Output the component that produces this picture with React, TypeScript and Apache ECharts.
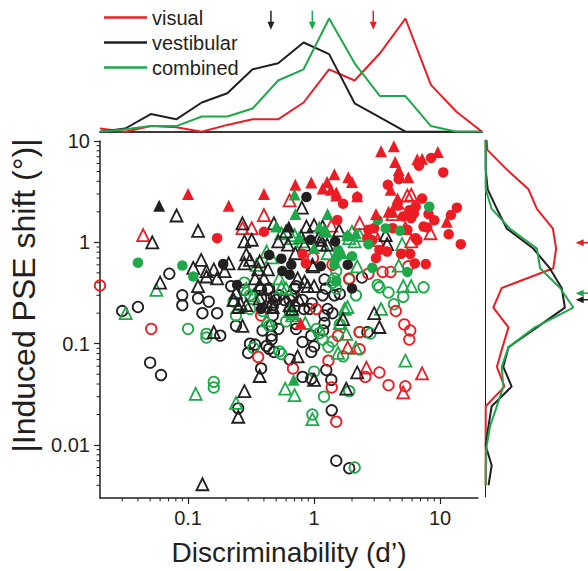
import React, { useEffect, useRef } from 'react';
import * as echarts from 'echarts';

const RED = '#ec1c24';
const BLACK = '#231f20';
const GREEN = '#1fa84a';
const FONT = '"Liberation Sans", Arial, Helvetica, sans-serif';

const X_MIN = 0.02;
const X_MAX = 20;
const Y_MIN = 0.003;
const Y_MAX = 10;

// ---------- scatter data: [d', |PSE shift|] ----------
const visualFilledTri = [[0.10,3.0],[0.21,2.3],[0.40,3.0],[0.71,3.7],[0.95,3.9],[1.27,3.95],[1.45,4.7],[1.17,3.4],[1.36,3.3],[1.5,3.1],[1.5,2.9],[3.4,7.9],[4.3,8.9],[9.6,7.8],[6.6,6.6],[7.2,6.7],[4.4,6.2],[4.7,5.15],[5.6,4.4],[1.87,4.4],[2.0,3.95],[4.05,3.3],[4.6,2.7],[4.7,2.4],[4.4,2.35],[4.2,2.0],[11.3,1.6],[3.1,1.9],[2.2,2.85],[3.9,2.0],[0.78,0.16]];
const visualOpenTri = [[0.044,1.18],[0.40,1.86],[0.64,2.6],[0.32,1.38],[0.27,1.38],[5.5,2.9],[5.9,2.95],[4.2,1.9],[8.4,1.23],[2.3,1.55],[5.3,1.38],[5.9,1.02],[1.85,0.092],[2.6,0.058],[7.2,0.051],[5.1,0.033],[1.37,1.46],[3.0,1.23],[3.2,1.05]];
const visualFilledCirc = [[0.17,1.1],[0.40,1.27],[1.53,1.66],[8.5,6.8],[6.8,5.7],[10.6,4.9],[4.7,4.2],[3.85,3.7],[2.2,2.8],[1.7,2.4],[7.2,2.7],[6.4,2.25],[5.1,1.8],[5.9,1.73],[8.1,1.9],[9.0,1.65],[13.6,2.2],[12.2,1.86],[7.9,1.4],[11.7,1.2],[14.6,0.96],[7.7,0.61],[6.3,0.62],[3.1,0.7],[3.3,0.84],[3.8,0.81],[4.2,1.38],[5.5,1.33],[6.4,1.1],[5.7,2.07],[6.2,1.93],[2.7,1.33],[3.0,1.38],[2.65,1.1],[2.9,1.05],[6.6,1.05],[7.4,1.43],[4.9,0.77],[5.8,0.77],[0.81,0.77],[0.86,0.62],[1.6,0.77]];
const visualOpenCirc = [[0.02,0.375],[0.051,0.14],[0.36,0.074],[0.38,0.19],[0.68,0.057],[4.05,0.51],[3.5,0.51],[4.45,0.21],[5.2,0.155],[5.8,0.135],[5.7,0.11],[2.3,0.13],[2.7,0.49],[1.55,0.12],[1.3,0.068],[3.3,0.052],[2.55,0.047],[3.9,0.039],[5.3,0.038],[1.38,0.037],[1.5,0.017],[0.98,0.7],[2.3,0.088],[1.9,0.44],[5.6,0.58],[1.04,0.22],[1.4,0.6]];

const vestibularFilledTri = [[0.059,2.3],[0.63,1.43]];
const vestibularFilledCirc = [[0.19,0.61],[0.245,0.38],[0.87,2.8],[0.94,1.06],[1.47,1.02],[2.0,0.35],[1.85,0.6],[0.38,0.22],[0.44,0.75],[0.55,0.69],[0.66,0.6],[0.56,0.52],[0.64,0.48],[1.13,0.58]];
const vestibularOpenTri = [[0.052,1.0],[0.081,1.84],[0.12,1.3],[0.27,1.54],[0.48,1.54],[0.80,2.2],[0.6,1.28],[0.87,1.43],[1.0,1.48],[0.28,1.02],[0.32,1.06],[0.52,1.02],[0.79,1.14],[1.13,1.06],[1.58,1.31],[3.7,1.18],[3.8,0.96],[0.060,0.40],[0.11,0.56],[0.127,0.67],[0.14,0.52],[0.16,0.54],[0.17,0.44],[0.14,0.46],[0.12,0.37],[0.21,0.62],[0.195,0.52],[0.29,0.76],[0.31,0.67],[0.28,0.62],[0.37,0.65],[0.36,0.54],[0.43,0.54],[0.34,0.44],[0.4,0.44],[0.37,0.38],[0.71,0.78],[0.98,0.58],[0.74,0.44],[0.84,0.41],[0.89,0.37],[1.0,0.37],[0.24,0.32],[0.23,0.27],[0.26,0.25],[0.25,0.23],[0.67,0.22],[1.7,0.175],[3.0,0.2],[3.3,0.146],[2.2,0.052],[1.8,0.036],[0.74,0.075],[1.0,0.044],[0.16,0.13],[0.27,0.15],[0.37,0.048],[0.28,0.034],[0.25,0.019],[0.13,0.0041],[0.29,0.24],[0.37,0.28],[0.46,0.26],[0.47,0.23],[0.64,0.24],[0.76,0.27],[1.17,1.43],[0.62,0.95],[0.84,0.95],[0.97,0.6],[1.1,1.14],[1.13,0.95],[1.27,0.95]];
const vestibularOpenCirc = [[0.030,0.21],[0.040,0.23],[0.050,0.065],[0.061,0.049],[0.071,0.49],[0.09,0.30],[0.09,0.24],[0.12,0.28],[0.146,0.26],[0.17,0.2],[0.13,0.2],[0.18,0.12],[0.24,0.15],[0.30,0.081],[0.38,0.057],[0.39,0.135],[0.46,0.11],[0.42,0.095],[0.44,0.089],[0.48,0.083],[0.64,0.07],[0.72,0.14],[0.81,0.104],[0.95,0.083],[1.21,0.19],[1.21,0.16],[1.18,0.135],[1.4,0.2],[2.65,0.13],[1.25,0.055],[1.37,0.044],[0.95,0.045],[0.81,0.047],[1.38,0.022],[1.5,0.007],[1.9,0.0059],[0.25,0.023],[2.4,0.45],[1.6,0.31],[0.22,0.37],[0.38,0.34],[0.44,0.35],[0.48,0.29],[0.53,0.3],[0.52,0.14],[0.72,0.156],[0.95,0.12],[1.0,0.094],[0.83,0.22],[0.96,0.25],[1.21,0.43],[1.24,0.35],[1.17,0.30],[1.45,0.30],[0.31,0.1],[0.34,0.098],[0.28,0.34],[0.38,0.28],[0.42,0.23],[0.47,0.24],[0.5,0.27],[0.43,0.34],[0.58,0.27],[0.7,0.35],[0.64,0.21],[0.7,0.23],[0.47,0.19],[0.46,0.15],[0.46,0.12],[0.72,0.37],[0.66,0.3],[0.81,0.27],[0.92,0.22],[1.28,0.22],[0.64,0.27]];

const combinedFilledTri = [[0.70,2.96],[0.71,1.9],[1.28,1.9],[1.2,1.33],[1.26,1.27],[1.1,1.43],[0.5,1.43],[1.84,1.18],[2.15,1.23],[1.67,0.78],[1.0,0.88],[0.76,1.13],[1.5,0.77],[0.69,0.044]];
const combinedFilledCirc = [[0.040,0.63],[0.09,0.59],[0.11,0.46],[8.2,2.25],[3.2,1.66],[3.7,1.37],[4.8,1.3],[1.84,1.14],[2.7,0.96],[5.5,0.51],[2.9,0.56],[2.0,0.73],[1.5,0.7],[1.55,0.84],[1.45,0.6],[1.5,0.41]];
const combinedOpenTri = [[0.056,0.34],[0.032,0.2],[0.115,0.032],[0.24,0.026],[0.67,1.1],[0.81,1.02],[2.0,1.27],[2.1,1.02],[5.0,0.96],[4.7,0.59],[5.9,0.37],[5.1,0.37],[3.4,0.22],[2.2,0.58],[1.84,0.23],[1.8,0.125],[2.15,0.091],[0.85,0.16],[1.55,0.081],[5.3,0.068],[0.59,0.036],[0.7,0.031],[0.97,0.018],[0.42,0.81],[0.46,0.71],[0.6,0.35],[0.29,0.35],[0.64,0.21],[0.35,0.6],[0.33,0.3],[0.23,0.27],[0.68,0.2],[0.42,0.17],[0.55,0.36],[0.55,1.23],[0.7,1.18],[1.9,1.1],[2.3,1.18],[1.28,0.78],[0.53,0.44],[0.67,0.19],[1.6,0.16],[1.75,0.22]];
const combinedOpenCirc = [[0.10,0.14],[0.14,0.115],[0.16,0.042],[0.16,0.037],[0.55,0.079],[1.0,0.053],[1.2,0.03],[0.97,0.02],[2.1,0.006],[1.3,0.093],[1.05,0.14],[1.1,0.127],[1.7,0.075],[1.9,0.034],[7.4,0.36],[5.1,0.29],[3.3,0.36],[3.9,0.32],[4.3,0.245],[1.9,0.43],[2.15,0.3],[1.6,0.155],[2.3,0.13],[2.8,0.126],[3.2,0.38],[0.28,0.4],[0.24,0.19],[0.31,0.22],[0.44,0.15],[0.6,0.166],[0.14,0.125],[1.17,0.11],[1.4,0.105],[0.33,0.091],[0.53,0.084],[0.31,0.3],[0.39,0.21],[0.23,0.26],[1.5,0.52],[1.4,0.4],[1.45,0.44],[1.5,0.35]];

// ---------- marginal distributions ----------
const dBinCenters = [0.02,0.0316,0.0501,0.0794,0.126,0.2,0.316,0.501,0.794,1.26,2.0,3.16,5.01,7.94,12.6,20];
const dVisual =     [0.8,0,1.4,1.1,0,1.7,3.1,3.1,7.3,15.6,12.8,19.6,28.3,11.7,5,0];
const dVestibular = [0,0.8,4.4,3.1,7.3,9.6,15.6,17.1,22.3,19.4,7.1,3.6,0,0,0,0];
const dCombined =   [0,0.6,1.4,1.4,3.8,3.8,5.8,12.8,15.6,28.3,17.1,8.9,8.9,1.4,0,0];

const pseBinCenters = [10,7.94,5.01,3.16,2.0,1.26,0.794,0.501,0.316,0.2,0.126,0.0794,0.0501,0.0316,0.02,0.0126,0.00794,0.00501,0.00316];
const pseVisual =     [0.25,0.4,5.3,10.7,12.8,16.8,17.6,16.9,4.0,1.9,5.7,4.2,2.8,4.7,0,0,0,0,0];
const pseVestibular = [0,0,0,0.5,2.8,5.3,11.9,16,19,19.8,12.8,5.7,4.4,6.5,1.5,0.7,0,1.5,0.7];
const pseCombined =   [0,0,0,0,1.5,6.1,12.8,13.6,18.6,21.9,12.3,5.7,4.0,4.4,2.8,1.1,0.25,0,0];

// medians marked by arrows
const medianD = { visual: 2.8, vestibular: 0.44, combined: 0.93 };
const medianPSE = { visual: 0.91, vestibular: 0.24, combined: 0.28 };

// tick values
const xMinorTicks = [0.03,0.04,0.05,0.06,0.07,0.08,0.09,0.2,0.3,0.4,0.5,0.6,0.7,0.8,0.9,2,3,4,5,6,7,8,9];
const yMinorTicks = [0.004,0.005,0.006,0.007,0.008,0.009,0.02,0.03,0.04,0.05,0.06,0.07,0.08,0.09,0.2,0.3,0.4,0.5,0.6,0.7,0.8,0.9,2,3,4,5,6,7,8,9];

const fmt = (v: number) => String(parseFloat(Number(v).toPrecision(6)));

function scatter(name: string, data: number[][], symbol: string, color: string, filled: boolean) {
  const size = symbol === 'triangle' ? 12 : 10.5;
  return {
    type: 'scatter', name, data, symbol, symbolSize: size,
    xAxisIndex: 0, yAxisIndex: 0, clip: false, z: filled ? 3 : 2,
    itemStyle: filled
      ? { color, borderWidth: 0, opacity: 1 }
      : { color: 'rgba(255,255,255,0)', borderColor: color, borderWidth: 1.8, opacity: 1 },
  };
}

function pair(xs: number[], ys: number[]) { return xs.map((x, i) => [x, ys[i]]); }

export default function App() {
  const ref = useRef<HTMLDivElement>(null);
  useEffect(() => {
    if (!ref.current) return;
    const chart = echarts.init(ref.current, null, { renderer: 'svg' });
    const colorOf: Record<string, string> = { visual: RED, vestibular: BLACK, combined: GREEN };
    const topArrowData = Object.entries(medianD).map(([k, v]) => ({ value: [v, 0], name: k }));
    const rightArrowData = Object.entries(medianPSE).map(([k, v]) => ({ value: [0, v], name: k }));

    chart.setOption({
      animation: false,
      textStyle: { fontFamily: FONT, color: BLACK },
      legend: {
        data: ['visual', 'vestibular', 'combined'],
        orient: 'vertical', left: 104, top: 7, itemWidth: 43, itemHeight: 2.5, itemGap: 4,
        icon: 'rect',
        selectedMode: false, padding: 0,
        textStyle: { fontSize: 20, color: BLACK, fontFamily: FONT, lineHeight: 21 },
      },
      grid: [
        { left: 100, top: 141, width: 378, height: 358 },
        { left: 100, top: 7.7, width: 382, height: 124 },
        { left: 485.7, top: 140, width: 100, height: 357 },
      ],
      xAxis: [
        {
          type: 'log', logBase: 10, min: X_MIN, max: X_MAX, gridIndex: 0,
          axisLine: { lineStyle: { color: BLACK, width: 1.5 } },
          axisTick: { length: 6, lineStyle: { color: BLACK, width: 1.2 } },
          axisLabel: { fontSize: 20, color: BLACK, fontFamily: FONT, margin: 10, showMinLabel: false, showMaxLabel: false, formatter: fmt },
          splitLine: { show: false }, minorTick: { show: false },
          name: 'Discriminability (d\u2019)', nameLocation: 'middle', nameGap: 40,
          nameTextStyle: { fontSize: 28, color: BLACK, fontFamily: FONT },
        },
        {
          type: 'log', logBase: 10, min: X_MIN, max: X_MAX, gridIndex: 1,
          axisLine: { lineStyle: { color: '#3a3a3a', width: 2 } },
          axisTick: { show: false }, axisLabel: { show: false }, splitLine: { show: false },
        },
        { type: 'value', min: 0, max: 25, gridIndex: 2, show: false },
      ],
      yAxis: [
        {
          type: 'log', logBase: 10, min: Y_MIN, max: Y_MAX, gridIndex: 0,
          axisLine: { lineStyle: { color: BLACK, width: 1.5 } },
          axisTick: { length: 6, lineStyle: { color: BLACK, width: 1.2 } },
          axisLabel: { fontSize: 20, color: BLACK, fontFamily: FONT, margin: 10, showMinLabel: false, formatter: fmt },
          splitLine: { show: false },
          name: '|Induced PSE shift (\u00b0)|', nameLocation: 'middle', nameGap: 54, nameRotate: 90,
          nameTextStyle: { fontSize: 32, color: BLACK, fontFamily: FONT, padding: [0, 0, 0, 48] },
        },
        { type: 'value', min: 0, max: 31, gridIndex: 1, show: false },
        {
          type: 'log', logBase: 10, min: 0.0024, max: 10, gridIndex: 2,
          axisLine: { lineStyle: { color: BLACK, width: 1 } },
          axisTick: { show: false }, axisLabel: { show: false }, splitLine: { show: false },
        },
      ],
      series: [
        // minor ticks
        {
          type: 'custom', xAxisIndex: 0, yAxisIndex: 0, silent: true, clip: false,
          data: xMinorTicks.map((v) => [v, Y_MIN]),
          renderItem: (params: any, api: any) => {
            const p = api.coord([api.value(0), api.value(1)]);
            return { type: 'line', shape: { x1: p[0], y1: p[1], x2: p[0], y2: p[1] + 3.5 }, style: { stroke: BLACK, lineWidth: 1 } };
          },
        },
        {
          type: 'custom', xAxisIndex: 0, yAxisIndex: 0, silent: true, clip: false,
          data: yMinorTicks.map((v) => [X_MIN, v]),
          renderItem: (params: any, api: any) => {
            const p = api.coord([api.value(0), api.value(1)]);
            return { type: 'line', shape: { x1: p[0], y1: p[1], x2: p[0] - 3.5, y2: p[1] }, style: { stroke: BLACK, lineWidth: 1 } };
          },
        },
        // scatter
        scatter('vestibular open circle', vestibularOpenCirc, 'circle', BLACK, false),
        scatter('combined open circle', combinedOpenCirc, 'circle', GREEN, false),
        scatter('visual open circle', visualOpenCirc, 'circle', RED, false),
        scatter('combined open triangle', combinedOpenTri, 'triangle', GREEN, false),
        scatter('visual open triangle', visualOpenTri, 'triangle', RED, false),
        scatter('vestibular open triangle', vestibularOpenTri, 'triangle', BLACK, false),
        scatter('visual filled circle', visualFilledCirc, 'circle', RED, true),
        scatter('combined filled circle', combinedFilledCirc, 'circle', GREEN, true),
        scatter('vestibular filled circle', vestibularFilledCirc, 'circle', BLACK, true),
        scatter('visual filled triangle', visualFilledTri, 'triangle', RED, true),
        scatter('combined filled triangle', combinedFilledTri, 'triangle', GREEN, true),
        scatter('vestibular filled triangle', vestibularFilledTri, 'triangle', BLACK, true),
        // top marginal
        { type: 'line', name: 'visual', xAxisIndex: 1, yAxisIndex: 1, data: pair(dBinCenters, dVisual), symbol: 'none', color: RED, lineStyle: { width: 2, color: RED } },
        { type: 'line', name: 'vestibular', xAxisIndex: 1, yAxisIndex: 1, data: pair(dBinCenters, dVestibular), symbol: 'none', color: BLACK, lineStyle: { width: 2, color: BLACK } },
        { type: 'line', name: 'combined', xAxisIndex: 1, yAxisIndex: 1, data: pair(dBinCenters, dCombined), symbol: 'none', color: GREEN, lineStyle: { width: 2, color: GREEN } },
        // right marginal
        { type: 'line', name: 'visual', xAxisIndex: 2, yAxisIndex: 2, data: pair(pseVisual, pseBinCenters), symbol: 'none', color: RED, lineStyle: { width: 2, color: RED } },
        { type: 'line', name: 'vestibular', xAxisIndex: 2, yAxisIndex: 2, data: pair(pseVestibular, pseBinCenters), symbol: 'none', color: BLACK, lineStyle: { width: 2, color: BLACK } },
        { type: 'line', name: 'combined', xAxisIndex: 2, yAxisIndex: 2, data: pair(pseCombined, pseBinCenters), symbol: 'none', color: GREEN, lineStyle: { width: 2, color: GREEN } },
        // arrows
        {
          type: 'custom', xAxisIndex: 1, yAxisIndex: 1, silent: true, clip: false,
          data: topArrowData,
          renderItem: (params: any, api: any) => {
            const p = api.coord([api.value(0), 0]);
            const cs = params.coordSys;
            const c = colorOf[topArrowData[params.dataIndex].name];
            const y0 = cs.y + 3, y1 = cs.y + 22;
            return {
              type: 'group', children: [
                { type: 'line', shape: { x1: p[0], y1: y0, x2: p[0], y2: y1 - 3 }, style: { stroke: c, lineWidth: 1.5 } },
                { type: 'polygon', shape: { points: [[p[0] - 3.5, y1 - 8], [p[0] + 3.5, y1 - 8], [p[0], y1]] }, style: { fill: c } },
              ],
            };
          },
        },
        {
          type: 'custom', xAxisIndex: 2, yAxisIndex: 2, silent: true, clip: false,
          data: rightArrowData,
          renderItem: (params: any, api: any) => {
            const p = api.coord([0, api.value(1)]);
            const cs = params.coordSys;
            const c = colorOf[rightArrowData[params.dataIndex].name];
            const x0 = cs.x + 90, x1 = cs.x + cs.width + 2.3;
            return {
              type: 'group', children: [
                { type: 'line', shape: { x1: x0 + 3, y1: p[1], x2: x1, y2: p[1] }, style: { stroke: c, lineWidth: 1.5 } },
                { type: 'polygon', shape: { points: [[x0, p[1]], [x0 + 8, p[1] - 3.5], [x0 + 8, p[1] + 3.5]] }, style: { fill: c } },
              ],
            };
          },
        },
      ],
    });
    return () => chart.dispose();
  }, []);
  return <div ref={ref} style={{ width: 588, height: 571, position: 'absolute', left: 0, top: 0 }} />;
}
